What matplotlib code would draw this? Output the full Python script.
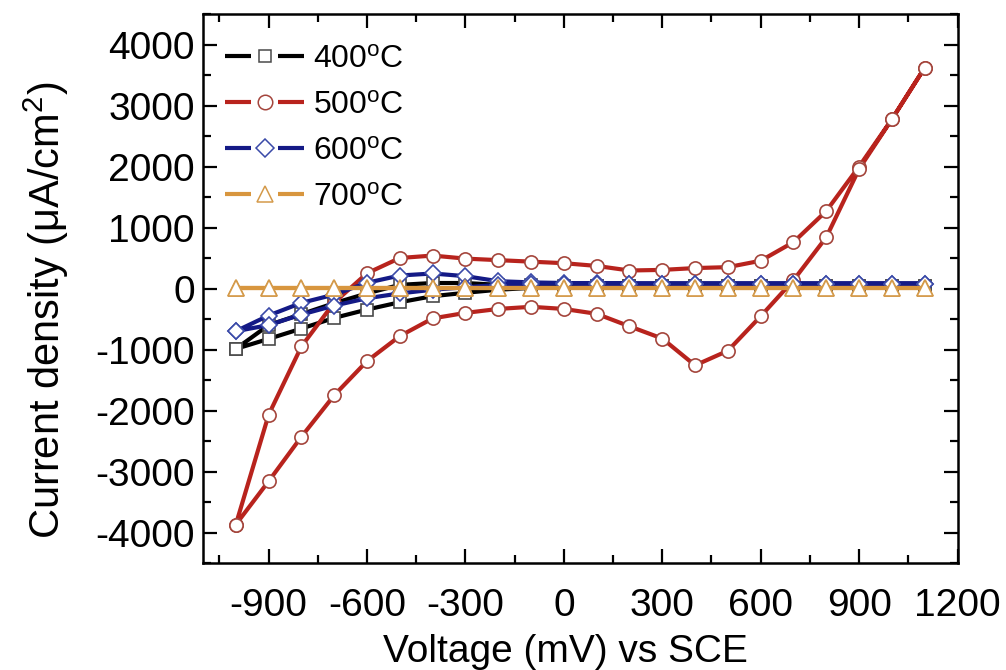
import matplotlib
matplotlib.use("Agg")
import matplotlib.pyplot as plt
from matplotlib.lines import Line2D
from matplotlib.legend_handler import HandlerBase
from matplotlib.ticker import MultipleLocator

plt.rcParams["font.family"] = ["Liberation Sans", "DejaVu Sans"]
plt.rcParams["mathtext.fontset"] = "custom"
plt.rcParams["mathtext.rm"] = "Liberation Sans"
plt.rcParams["mathtext.it"] = "Liberation Sans:italic"
plt.rcParams["axes.unicode_minus"] = False

# Potential grid (mV vs SCE), same for the anodic and the return sweep
voltage = [-1000, -900, -800, -700, -600, -500, -400, -300, -200, -100, 0,
           100, 200, 300, 400, 500, 600, 700, 800, 900, 1000, 1100]

# Current density (uA/cm2): forward sweep and return sweep, both listed by voltage
j400_fwd = [-990, -600, -420, -240, -80, 60, 90, 90, 60, 50, 45,
            40, 40, 40, 40, 40, 40, 40, 40, 40, 40, 40]
j400_rev = [-990, -826, -657, -482, -345, -225, -126, -70, -20, 10, 25,
            35, 40, 40, 40, 40, 40, 40, 40, 40, 40, 40]

j500_fwd = [-3870, -2070, -950, -230, 250, 500, 540, 490, 465, 440, 415,
            370, 295, 305, 335, 350, 455, 760, 1270, 2000, 2775, 3620]
j500_rev = [-3870, -3160, -2430, -1750, -1190, -780, -490, -400, -335, -300, -335,
            -415, -620, -820, -1260, -1020, -455, 136, 840, 1960, 2775, 3620]

j600_fwd = [-700, -443, -235, -100, 94, 213, 246, 202, 120, 100, 90,
            85, 80, 80, 80, 80, 80, 80, 80, 80, 80, 80]
j600_rev = [-700, -600, -427, -280, -160, -80, -20, 20, 60, 75, 80,
            80, 80, 80, 80, 80, 80, 80, 80, 80, 80, 80]

j700_fwd = [10, 10, 10, 10, 10, 10, 10, 10, 10, 10, 10,
            10, 10, 10, 10, 10, 10, 10, 10, 10, 10, 10]
j700_rev = [10, 10, 10, 10, 10, 10, 10, 10, 10, 10, 10,
            10, 10, 10, 10, 10, 10, 10, 10, 10, 10, 10]

labels = ["400$^{\\rm o}$C", "500$^{\\rm o}$C", "600$^{\\rm o}$C", "700$^{\\rm o}$C"]
x_ticks = [-900, -600, -300, 0, 300, 600, 900, 1200]
y_ticks = [-4000, -3000, -2000, -1000, 0, 1000, 2000, 3000, 4000]

styles = [
    dict(color="#000000", marker="s", mec="#4a4a4a", ms=8.5),
    dict(color="#b8231d", marker="o", mec="#a4453c", ms=9.5),
    dict(color="#141a86", marker="D", mec="#3a4aa8", ms=8.0),
    dict(color="#d8963e", marker="^", mec="#d49a4a", ms=11.0),
]
curves = [(j400_fwd, j400_rev), (j500_fwd, j500_rev),
          (j600_fwd, j600_rev), (j700_fwd, j700_rev)]

fig = plt.figure(figsize=(10.06, 6.70), dpi=100)
ax = fig.add_axes([0.2018, 0.1597, 0.7500, 0.8194])

handles = []
for (fwd, rev), st, lab in zip(curves, styles, labels):
    xs = voltage + voltage[::-1]
    ys = fwd + rev[::-1]
    ln, = ax.plot(xs, ys, color=st["color"], lw=3.0, marker=st["marker"],
                  ms=st["ms"], mfc="white", mec=st["mec"], mew=1.2,
                  label=lab, solid_joinstyle="round")
    handles.append(ln)


class GapLineHandler(HandlerBase):
    """Legend key drawn as line - marker - line with small gaps."""
    def create_artists(self, legend, orig, xdescent, ydescent, width, height,
                       fontsize, trans):
        y = height / 2.0 - ydescent
        x0 = -xdescent
        x1 = width - xdescent
        mid = (x0 + x1) / 2.0
        gap = width * 0.17
        kw = dict(color=orig.get_color(), lw=orig.get_linewidth(),
                  solid_capstyle="butt")
        a = Line2D([x0, mid - gap], [y, y], **kw)
        b = Line2D([mid + gap, x1], [y, y], **kw)
        m = Line2D([mid], [y], ls="none", marker=orig.get_marker(),
                   ms=orig.get_markersize() * 1.1, mfc="white",
                   mec=orig.get_markeredgecolor(), mew=1.1)
        for art in (a, b, m):
            art.set_transform(trans)
        return [a, b, m]


leg = ax.legend(handles=handles, loc="upper left", frameon=False,
                fontsize=23, handlelength=2.45, handletextpad=0.3,
                labelspacing=0.5, borderaxespad=0.3,
                bbox_to_anchor=(0.0, 0.985),
                handler_map={Line2D: GapLineHandler()})

ax.set_xlim(-1100, 1200)
ax.set_ylim(-4500, 4500)
ax.set_xticks(x_ticks)
ax.set_yticks(y_ticks)
ax.xaxis.set_minor_locator(MultipleLocator(150))
ax.yaxis.set_minor_locator(MultipleLocator(500))

ax.tick_params(which="both", direction="in", top=True, right=True, width=1.6)
ax.tick_params(which="major", length=10)
ax.tick_params(which="minor", length=6)
ax.tick_params(axis="x", which="major", labelsize=28, pad=18)
ax.tick_params(axis="y", which="major", labelsize=28, pad=6)
for sp in ax.spines.values():
    sp.set_linewidth(1.8)

ax.set_xlabel("Voltage (mV) vs SCE", fontsize=28, labelpad=7)
ax.xaxis.label.set_x(0.48)
ax.set_ylabel("Current density (\u03bcA/cm$^2$)", fontsize=30, labelpad=17)
ax.yaxis.label.set_y(0.46)

fig.savefig("out.png", dpi=100)
